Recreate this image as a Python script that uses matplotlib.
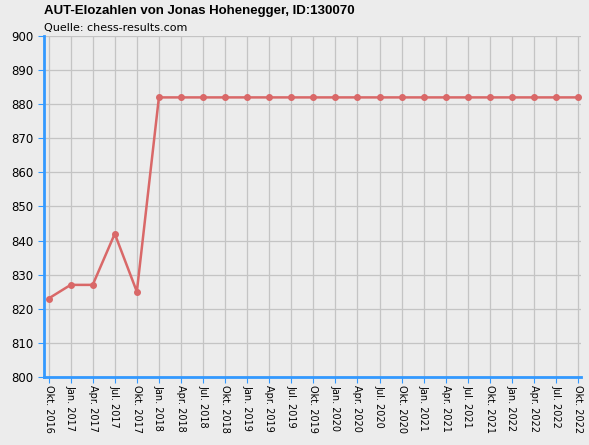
import matplotlib.pyplot as plt

labels = ['Okt. 2016', 'Jan. 2017', 'Apr. 2017', 'Jul. 2017', 'Okt. 2017',
          'Jan. 2018', 'Apr. 2018', 'Jul. 2018', 'Okt. 2018', 'Jan. 2019',
          'Apr. 2019', 'Jul. 2019', 'Okt. 2019', 'Jan. 2020', 'Apr. 2020',
          'Jul. 2020', 'Okt. 2020', 'Jan. 2021', 'Apr. 2021', 'Jul. 2021',
          'Okt. 2021', 'Jan. 2022', 'Apr. 2022', 'Jul. 2022', 'Okt. 2022']
elo = [823, 827, 827, 842, 825] + [882] * 20

bg = '#ececec'
blue = '#3399ff'

fig = plt.figure(figsize=(5.89, 4.45), dpi=100, facecolor=bg)
ax = fig.add_axes([0.075, 0.153, 0.911, 0.766], facecolor=bg)

x = list(range(len(elo)))
ax.plot(x, elo, color='#d96868', linewidth=1.8, marker='o', markersize=4, zorder=3)

ax.set_ylim(800, 900)
ax.set_yticks(range(800, 901, 10))
ax.set_xlim(-0.2, len(elo) - 1 + 0.12)
ax.set_xticks(x)
ax.set_xticklabels(labels, rotation=270, fontsize=7)
ax.tick_params(axis='y', labelsize=8.5, colors='black', length=4)
ax.tick_params(axis='x', length=4, pad=2)
ax.tick_params(color=blue)
ax.grid(True, color='#c4c4c4', linewidth=0.9)
ax.set_axisbelow(True)
for s in ['top', 'right']:
    ax.spines[s].set_visible(False)
for s in ['left', 'bottom']:
    ax.spines[s].set_color(blue)
    ax.spines[s].set_linewidth(2)

fig.text(0.075, 0.975, 'AUT-Elozahlen von Jonas Hohenegger, ID:130070',
         fontsize=9.5, fontweight='bold', family='Liberation Sans', va='center')
fig.text(0.075, 0.937, 'Quelle: chess-results.com', fontsize=8, va='center')

fig.savefig('out.png', facecolor=bg)
